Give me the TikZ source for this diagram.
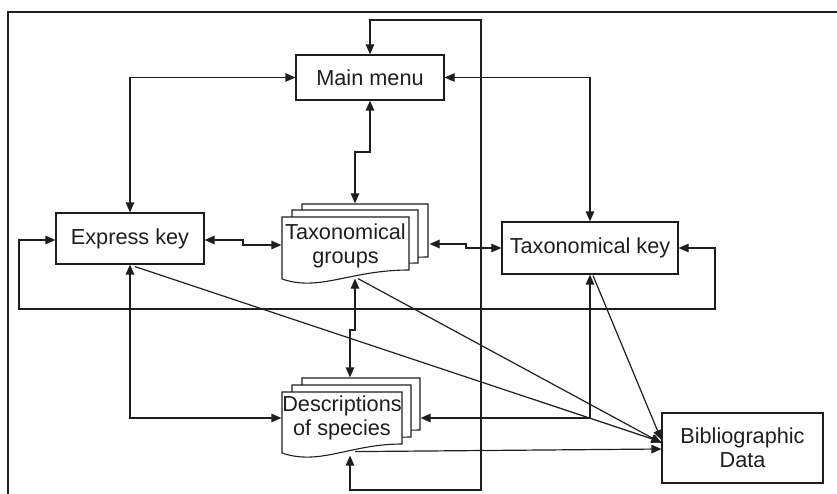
\documentclass[tikz,border=0pt]{standalone}
\usepackage{fontspec}
\setmainfont{Liberation Sans}
\usetikzlibrary{arrows.meta,calc}
\definecolor{ink}{HTML}{1E1E1E}
\begin{document}
\begin{tikzpicture}[x=1pt,y=-1pt, line width=1.2pt, draw=ink, text=ink,
  box/.style={draw, rectangle, inner sep=0pt, align=center, font=\fontsize{21.7}{24}\selectfont},
  lbl/.style={inner sep=0pt, align=center, font=\fontsize{21.7}{24}\selectfont},
  conn/.style={{Triangle[length=10pt,width=8.5pt]}-{Triangle[length=10pt,width=8.5pt]}},
  oneway/.style={-{Triangle[length=10pt,width=8.5pt]}},
  docpage/.style={draw, fill=white, line width=1.1pt}]
\useasboundingbox (0,0) rectangle (837,494);
% outer frame
\draw (837,12) -- (8,12) -- (8,494);

% document stacks: Taxonomical groups
\draw[docpage] (302,204) -- (428,204) -- (428,257) .. controls (369,257) and (339,279) .. (302,266) -- cycle;
\draw[docpage] (292,210) -- (418,210) -- (418,263) .. controls (359,263) and (329,285) .. (292,272) -- cycle;
\draw[docpage] (282,217) -- (409,217) -- (409,270) .. controls (350,270) and (320,292) .. (282,279) -- cycle;
% document stacks: Descriptions of species
\draw[docpage] (302,378) -- (420,378) -- (420,430) .. controls (368,430) and (338,452) .. (302,439) -- cycle;
\draw[docpage] (292,385) -- (411,385) -- (411,437) .. controls (359,437) and (329,459) .. (292,446) -- cycle;
\draw[docpage] (282,392) -- (402,392) -- (402,444) .. controls (350,444) and (320,466) .. (282,453) -- cycle;

% nodes
\node[box, minimum width=148pt, minimum height=45pt] (mm) at (370,77.5) {Main menu};
\node[box, minimum width=148pt, minimum height=51pt] (ek) at (130,238.5) {Express key};
\node[box, minimum width=176pt, minimum height=52pt] (tk) at (590,248) {Taxonomical key};
\node[box, minimum width=161pt, minimum height=70pt] (bd) at (742.5,448) {Bibliographic\\Data};
\node[lbl, minimum width=127pt, minimum height=58pt] (tg) at (345.5,246) {Taxonomical\\groups};
\node[lbl, minimum width=120pt, minimum height=52pt] (ds) at (342,418) {Descriptions\\of species};

% connectors
\draw[conn] ($(ds.south)+(8,11)$) |- (481,490) |- (370,20) -- (mm.north);
\draw[conn] (mm.west) -| (ek.north);
\draw[conn] (mm.east) -| (tk.north);
\draw[conn] (mm.south) -- (370,152) -| ($(tg.north)+(9.5,-13)$);
\draw[conn] ($(ek.east)+(0,1.5)$) -- (243,240) |- ($(tg.west)+(0,-1)$);
\draw[conn] ($(tg.east)+(20,-2)$) -- (466,244) |- (tk.west);
\draw[conn] (tk.east) -- (715,248) |- (19,309) |- ($(ek.west)+(0,1.5)$);
\draw[conn] ($(tg.south)+(9.5,3)$) -- (355,330) -| ($(ds.north)+(8,-14)$);
\draw[conn] (ek.south) |- (ds.west);
\draw[conn] (tk.south) |- ($(ds.east)+(18,0)$);
\draw[oneway] ($(ek.south)+(5,2)$) -- ($(bd.west)+(0,-6)$);
\draw[oneway] ($(tg.south)+(12.5,3)$) -- ($(bd.west)+(0,-5)$);
\draw[oneway] ($(tk.south)+(3,1)$) -- ($(bd.west)+(0,-8)$);
\draw[oneway] ($(ds.south)+(13,7)$) -- ($(bd.west)+(0,1)$);
\end{tikzpicture}
\end{document}
